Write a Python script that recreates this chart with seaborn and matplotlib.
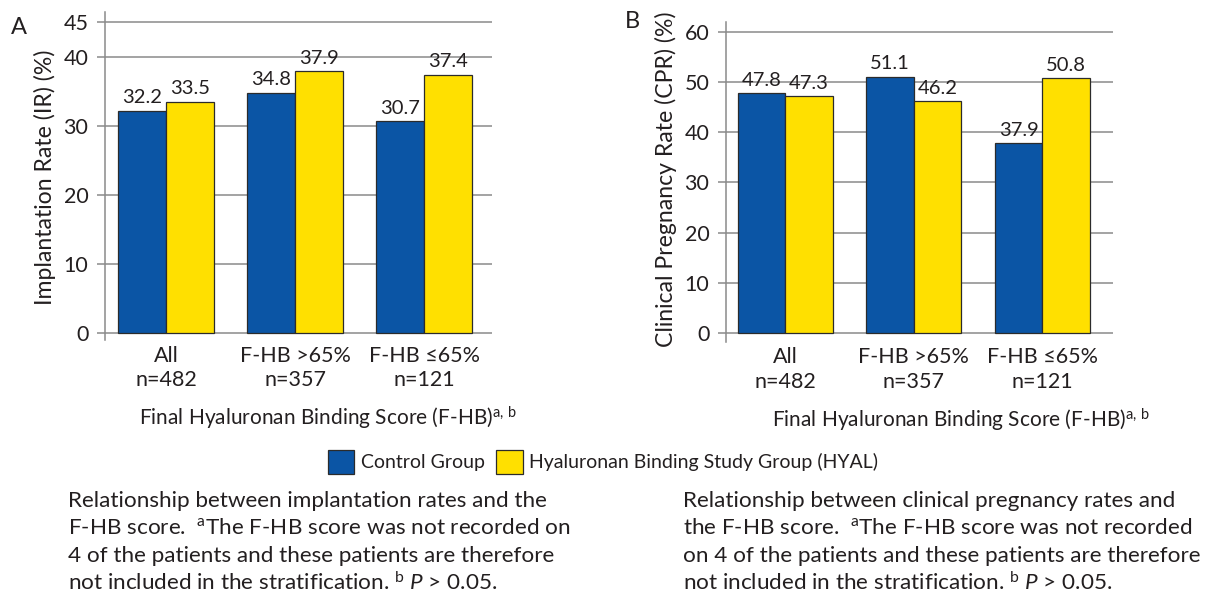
import matplotlib
matplotlib.use("Agg")
import matplotlib.pyplot as plt
import seaborn as sns
import pandas as pd
from matplotlib.patches import Patch

# ---------------- data ----------------
categories = ["All\nn=482", "F-HB >65%\nn=357", "F-HB \u226465%\nn=121"]
groups = ["Control Group", "Hyaluronan Binding Study Group (HYAL)"]
ir_control = [32.2, 34.8, 30.7]
ir_hyal = [33.5, 37.9, 37.4]
cpr_control = [47.8, 51.1, 37.9]
cpr_hyal = [47.3, 46.2, 50.8]
ir_ticks = [0, 10, 20, 30, 40, 45]
cpr_ticks = [0, 10, 20, 30, 40, 50, 60]
ir_ylabel = "Implantation Rate (IR) (%)"
cpr_ylabel = "Clinical Pregnancy Rate (CPR) (%)"
xlabel = "Final Hyaluronan Binding Score (F-HB)$^{\\mathrm{a,\\,b}}$"
caption_a = [
    "Relationship between implantation rates and the",
    "F-HB score.  $^{\\mathrm{a}}$The F-HB score was not recorded on",
    "4 of the patients and these patients are therefore",
    "not included in the stratification. $^{\\mathrm{b}}$ $\\mathit{P}$ > 0.05.",
]
caption_b = [
    "Relationship between clinical pregnancy rates and",
    "the F-HB score.  $^{\\mathrm{a}}$The F-HB score was not recorded",
    "on 4 of the patients and these patients are therefore",
    "not included in the stratification. $^{\\mathrm{b}}$ $\\mathit{P}$ > 0.05.",
]
colors = ["#0b55a5", "#ffe000"]

# ---------------- style ----------------
sns.set_theme(style="white")
FONT = ["Lato", "DejaVu Sans"]
plt.rcParams["font.family"] = FONT
plt.rcParams["mathtext.fontset"] = "custom"
plt.rcParams["mathtext.rm"] = "Lato"
plt.rcParams["mathtext.it"] = "Lato:italic"
plt.rcParams["text.color"] = "#231f20"

W, H = 1205, 609
fig = plt.figure(figsize=(W / 100, H / 100), dpi=100)
fig.patch.set_facecolor("white")


def rect(left, top, right, bottom):
    return [left / W, 1 - bottom / H, (right - left) / W, (bottom - top) / H]


def make_df(ctrl, hyal):
    rows = []
    for c, v in zip(categories, ctrl):
        rows.append({"cat": c, "group": groups[0], "val": v})
    for c, v in zip(categories, hyal):
        rows.append({"cat": c, "group": groups[1], "val": v})
    return pd.DataFrame(rows)


def panel(r, ctrl, hyal, ylim, yticks, xlim, ylab, letter, letter_xy,
          ylab_xy, xlab_xy):
    ax = fig.add_axes(r)
    df = make_df(ctrl, hyal)
    sns.barplot(data=df, x="cat", y="val", hue="group", order=categories,
                hue_order=groups, palette=colors, saturation=1, width=0.74,
                gap=0, edgecolor="#2b2b2b", linewidth=0.9, legend=False,
                ax=ax, errorbar=None)
    for cont in ax.containers:
        ax.bar_label(cont, fmt="%.1f", padding=3, fontsize=14.5,
                     color="#231f20")
    ax.set_ylim(*ylim)
    ax.set_xlim(*xlim)
    ax.set_yticks(yticks)
    ax.set_axisbelow(True)
    ax.yaxis.grid(True, color="#8a8a8a", lw=1.1)
    ax.xaxis.grid(False)
    for s in ["top", "right", "bottom"]:
        ax.spines[s].set_visible(False)
    ax.spines["left"].set_color("#8a8a8a")
    ax.spines["left"].set_linewidth(1.1)
    ax.tick_params(axis="y", length=6, width=1.1, color="#8a8a8a", pad=6,
                   labelsize=15.5, labelcolor="#231f20", left=True)
    ax.tick_params(axis="x", length=0, pad=4, labelsize=15.5,
                   labelcolor="#231f20")
    for t in ax.get_xticklabels():
        t.set_linespacing(1.3)
    ax.set_ylabel(ylab, fontsize=16.6, color="#231f20")
    ax.yaxis.label.set_va("center")
    ax.yaxis.set_label_coords(*ylab_xy)
    ax.set_xlabel(xlabel, fontsize=15, color="#231f20")
    ax.xaxis.label.set_va("center")
    ax.xaxis.set_label_coords(*xlab_xy)
    fig.text(letter_xy[0] / W, 1 - letter_xy[1] / H, letter, fontsize=17,
             ha="left", va="center")
    return ax


axA = panel(rect(105, 12, 492, 340), ir_control, ir_hyal, (-1.0, 46.45),
            ir_ticks, (-0.473, 2.527), ir_ylabel, "A", (11, 27),
            ((45 - 105) / 387, (340 - 177) / 328),
            ((328 - 105) / 387, (340 - 418) / 328))
axB = panel(rect(726, 21.7, 1113, 341.7), cpr_control, cpr_hyal,
            (-1.74, 62.05), cpr_ticks, (-0.46, 2.55), cpr_ylabel, "B",
            (625, 21), ((666 - 726) / 387, (341.7 - 179) / 320),
            ((961 - 726) / 387, (341.7 - 420) / 320))

handles = [Patch(facecolor=colors[0], edgecolor="#2b2b2b", lw=0.9),
           Patch(facecolor=colors[1], edgecolor="#2b2b2b", lw=0.9)]
fig.legend(handles, groups, loc="center", ncol=2, frameon=False,
           bbox_to_anchor=(603 / W, 1 - 462 / H), fontsize=14,
           handlelength=1.35, handleheight=1.45, handletextpad=0.35,
           columnspacing=0.6)

for i, line in enumerate(caption_a):
    fig.text(68 / W, 1 - (501 + 27.3 * i) / H, line, fontsize=16.2,
             ha="left", va="center")
for i, line in enumerate(caption_b):
    fig.text(683 / W, 1 - (501 + 27.3 * i) / H, line, fontsize=16.2,
             ha="left", va="center")

fig.savefig("out.png", dpi=100, facecolor="white")
